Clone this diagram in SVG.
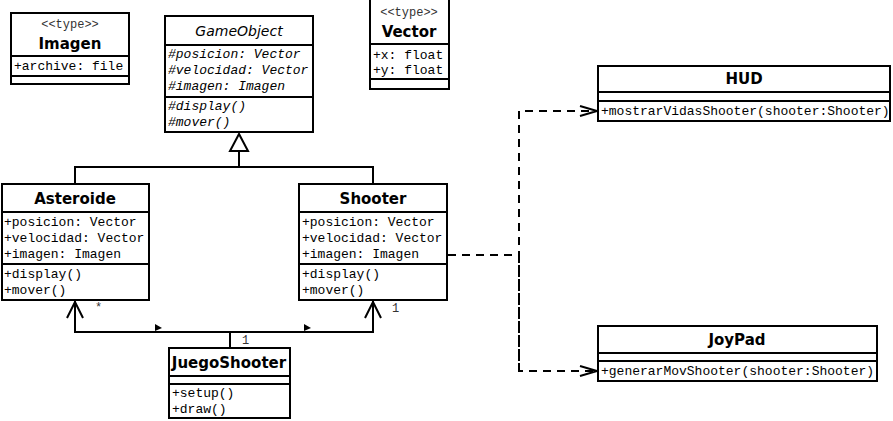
<svg xmlns="http://www.w3.org/2000/svg" width="893" height="421" viewBox="0 0 893 421">
<style>
.box{fill:#fff;stroke:#000;stroke-width:2}
.sep{stroke:#000;stroke-width:2}
.title{font-family:"DejaVu Sans",sans-serif;font-weight:bold;font-size:15px;text-anchor:middle;fill:#000}
.abs{font-family:"DejaVu Sans",sans-serif;font-style:italic;font-size:14px;text-anchor:middle;fill:#000}
.ster{font-family:"Liberation Mono",monospace;font-size:12px;text-anchor:middle;fill:#333}
.mem{font-family:"Liberation Mono",monospace;font-size:13px;fill:#000}
.it{font-style:italic}
.lbl{font-family:"Liberation Mono",monospace;font-size:12px;fill:#333}
.ln{fill:none;stroke:#000;stroke-width:2}
.dash{fill:none;stroke:#000;stroke-width:2;stroke-dasharray:8,6}
</style>
<defs>
<clipPath id="cHud"><rect x="598" y="66" width="291" height="55"/></clipPath>
<clipPath id="cJoy"><rect x="598" y="326" width="278" height="55"/></clipPath>
</defs>
<rect width="893" height="421" fill="#fff"/>

<g id="connectors">
  <polyline class="ln" points="75,184 75,167 373,167 373,184"/>
  <line class="ln" x1="239" y1="167" x2="239" y2="151"/>
  <polygon points="239,134 230,151 248,151" fill="#fff" stroke="#000" stroke-width="2"/>
  <polyline class="ln" points="75,301 75,332 373,332 373,301"/>
  <line class="ln" x1="230" y1="332" x2="230" y2="348"/>
  <polyline class="ln" points="67,318 75,302 83,318"/>
  <polyline class="ln" points="365,318 373,302 381,318"/>
  <polygon points="155,324 155,331 162,328" fill="#000"/>
  <polygon points="304,324 304,331 311,328" fill="#000"/>
  <text class="lbl" x="95" y="311">*</text>
  <text class="lbl" x="392" y="312">1</text>
  <text class="lbl" x="242" y="344">1</text>
  <polyline class="dash" points="448,255 519,255"/>
  <polyline class="dash" points="519,371 519,111 596,111"/>
  <polyline class="dash" points="519,255 519,371 596,371"/>
  <polyline class="ln" points="580,106 597,111 580,116"/>
  <polyline class="ln" points="580,366 597,371 580,376"/>
</g>

<g id="Imagen">
  <rect class="box" x="11" y="13" width="118" height="71"/>
  <line class="sep" x1="11" y1="56" x2="129" y2="56"/>
  <line class="sep" x1="11" y1="76" x2="129" y2="76"/>
  <text class="ster" x="70" y="28">&lt;&lt;type&gt;&gt;</text>
  <text class="title" x="70" y="49">Imagen</text>
  <text class="mem" x="14" y="70">+archive: file</text>
</g>

<g id="GameObject">
  <rect class="box" x="165" y="16" width="148" height="116"/>
  <line class="sep" x1="165" y1="45" x2="313" y2="45"/>
  <line class="sep" x1="165" y1="97" x2="313" y2="97"/>
  <text class="abs" x="239" y="36">GameObject</text>
  <text class="mem it" x="168" y="58">#posicion: Vector</text>
  <text class="mem it" x="168" y="74">#velocidad: Vector</text>
  <text class="mem it" x="168" y="90">#imagen: Imagen</text>
  <text class="mem it" x="168" y="110">#display()</text>
  <text class="mem it" x="168" y="126">#mover()</text>
</g>

<g id="Vector">
  <rect class="box" x="370" y="-1" width="79" height="90"/>
  <line class="sep" x1="370" y1="44" x2="449" y2="44"/>
  <line class="sep" x1="370" y1="79" x2="449" y2="79"/>
  <text class="ster" x="409" y="16">&lt;&lt;type&gt;&gt;</text>
  <text class="title" x="409" y="37">Vector</text>
  <text class="mem" x="373" y="59">+x: float</text>
  <text class="mem" x="373" y="74">+y: float</text>
</g>

<g id="Asteroide">
  <rect class="box" x="2" y="184" width="147" height="116"/>
  <line class="sep" x1="2" y1="212" x2="149" y2="212"/>
  <line class="sep" x1="2" y1="264" x2="149" y2="264"/>
  <text class="title" x="75" y="204">Asteroide</text>
  <text class="mem" x="4" y="226">+posicion: Vector</text>
  <text class="mem" x="4" y="242">+velocidad: Vector</text>
  <text class="mem" x="4" y="258">+imagen: Imagen</text>
  <text class="mem" x="4" y="278">+display()</text>
  <text class="mem" x="4" y="294">+mover()</text>
</g>

<g id="Shooter">
  <rect class="box" x="299" y="184" width="148" height="116"/>
  <line class="sep" x1="299" y1="212" x2="447" y2="212"/>
  <line class="sep" x1="299" y1="264" x2="447" y2="264"/>
  <text class="title" x="373" y="204">Shooter</text>
  <text class="mem" x="302" y="226">+posicion: Vector</text>
  <text class="mem" x="302" y="242">+velocidad: Vector</text>
  <text class="mem" x="302" y="258">+imagen: Imagen</text>
  <text class="mem" x="302" y="278">+display()</text>
  <text class="mem" x="302" y="294">+mover()</text>
</g>

<g id="JuegoShooter">
  <rect class="box" x="169" y="348" width="121" height="70"/>
  <line class="sep" x1="169" y1="376" x2="290" y2="376"/>
  <line class="sep" x1="169" y1="384" x2="290" y2="384"/>
  <text class="title" x="229" y="368">JuegoShooter</text>
  <text class="mem" x="172" y="397">+setup()</text>
  <text class="mem" x="172" y="413">+draw()</text>
</g>

<g id="HUD">
  <rect class="box" x="598" y="66" width="292" height="55"/>
  <line class="sep" x1="598" y1="92" x2="890" y2="92"/>
  <line class="sep" x1="598" y1="101" x2="890" y2="101"/>
  <text class="title" x="744" y="84">HUD</text>
  <text class="mem" x="601" y="115" clip-path="url(#cHud)">+mostrarVidasShooter(shooter:Shooter)</text>
</g>

<g id="JoyPad">
  <rect class="box" x="598" y="326" width="279" height="55"/>
  <line class="sep" x1="598" y1="353" x2="877" y2="353"/>
  <line class="sep" x1="598" y1="361" x2="877" y2="361"/>
  <text class="title" x="737" y="345">JoyPad</text>
  <text class="mem" x="601" y="375" clip-path="url(#cJoy)">+generarMovShooter(shooter:Shooter)</text>
</g>
</svg>
